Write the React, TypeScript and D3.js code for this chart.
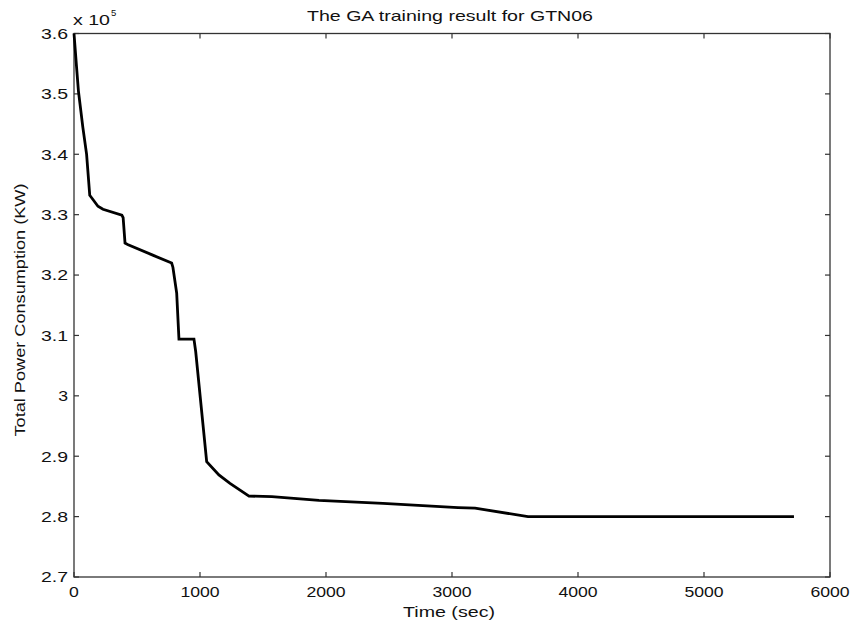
import React from "react";
import * as d3 from "d3";

const times = [0, 20, 35, 70, 100, 125, 140, 190, 230, 380, 390, 405, 430, 625, 775, 785, 815, 833, 952, 966, 1053, 1150, 1238, 1389, 1570, 1944, 2452, 3048, 3183, 3603, 5714];
const power = [3.6, 3.545, 3.505, 3.445, 3.4, 3.332, 3.328, 3.314, 3.309, 3.299, 3.295, 3.253, 3.25, 3.233, 3.22, 3.213, 3.17, 3.094, 3.094, 3.073, 2.891, 2.869, 2.855, 2.834, 2.833, 2.827, 2.822, 2.815, 2.814, 2.8, 2.8];
const xTicks = [0, 1000, 2000, 3000, 4000, 5000, 6000];
const yTicks = [2.7, 2.8, 2.9, 3.0, 3.1, 3.2, 3.3, 3.4, 3.5, 3.6];
const yTickLabels = ["2.7", "2.8", "2.9", "3", "3.1", "3.2", "3.3", "3.4", "3.5", "3.6"];

const W = 851, H = 627;
const L = 74, R = 830, T = 33.5, B = 577;
const font = "'Liberation Sans', Arial, Helvetica, sans-serif";
const txt = "#111";

function labelWidth(s: string) {
  let w = 0;
  for (const c of s) w += c === "." ? 7.5 : 9.8;
  return w;
}

export default function App() {
  const x = d3.scaleLinear().domain([0, 6000]).range([L, R]);
  const y = d3.scaleLinear().domain([2.7, 3.6]).range([B, T]);
  const line = d3.line<number>().x((_, i) => x(times[i])).y((d) => y(d));
  const tl = 5;
  const axisColor = "#333";
  return (
    <svg width={W} height={H} style={{ position: "absolute", left: 0, top: 0, background: "#fff" }}>
      <rect x={0} y={0} width={W} height={H} fill="#fff" />
      <rect x={L} y={T} width={R - L} height={B - T} fill="none" stroke={axisColor} strokeWidth={1.3} />
      {xTicks.map((t) => {
        const s = String(t);
        const w = labelWidth(s);
        return (
          <g key={"x" + t}>
            <line x1={x(t)} x2={x(t)} y1={B} y2={B - tl} stroke={axisColor} strokeWidth={1.2} />
            <line x1={x(t)} x2={x(t)} y1={T} y2={T + tl} stroke={axisColor} strokeWidth={1.2} />
            <text x={x(t) - w / 2} y={597} textLength={w} lengthAdjust="spacingAndGlyphs" fontFamily={font} fontSize={15} fill={txt}>{s}</text>
          </g>
        );
      })}
      {yTicks.map((t, i) => {
        const s = yTickLabels[i];
        const w = labelWidth(s);
        return (
          <g key={"y" + t}>
            <line x1={L} x2={L + tl} y1={y(t)} y2={y(t)} stroke={axisColor} strokeWidth={1.2} />
            <line x1={R} x2={R - tl} y1={y(t)} y2={y(t)} stroke={axisColor} strokeWidth={1.2} />
            <text x={68 - w} y={y(t) + 5.3} textLength={w} lengthAdjust="spacingAndGlyphs" fontFamily={font} fontSize={15} fill={txt}>{s}</text>
          </g>
        );
      })}
      <path d={line(power) || ""} fill="none" stroke="#000" strokeWidth={2.8} strokeLinejoin="miter" />
      <text x={307} y={20.7} textLength={286} lengthAdjust="spacingAndGlyphs" fontFamily={font} fontSize={15} fill={txt}>The GA training result for GTN06</text>
      <text x={403} y={617} textLength={92} lengthAdjust="spacingAndGlyphs" fontFamily={font} fontSize={14} fill={txt}>Time (sec)</text>
      <text transform={`translate(25,${310 + 253 / 2}) rotate(-90)`} textLength={253} lengthAdjust="spacingAndGlyphs" fontFamily={font} fontSize={15.5} fill={txt}>Total Power Consumption (KW)</text>
      <text x={73} y={25} fontFamily={font} fontSize={15.5} fill={txt} textLength={37} lengthAdjust="spacingAndGlyphs">x 10</text>
      <text x={111} y={16} fontFamily={font} fontSize={9.5} fill={txt}>5</text>
    </svg>
  );
}
